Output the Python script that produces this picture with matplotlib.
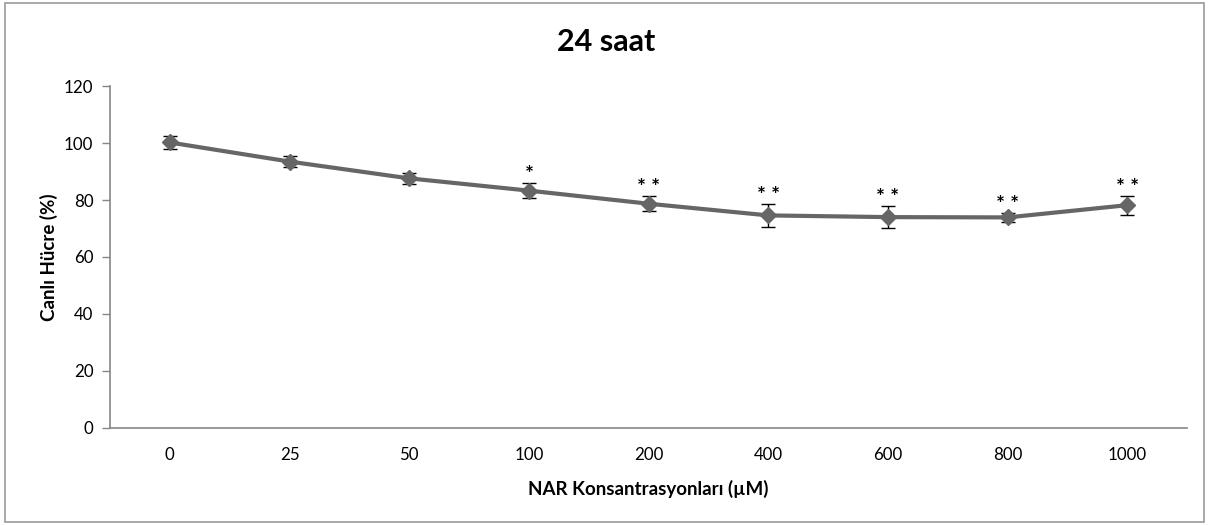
import numpy as np
import matplotlib.pyplot as plt
from matplotlib.patches import Rectangle

# data
doses = ['0', '25', '50', '100', '200', '400', '600', '800', '1000']
viability = [100.2, 93.5, 87.6, 83.3, 78.7, 74.6, 74.0, 73.9, 78.2]
err = [2.2, 2.0, 2.0, 2.7, 2.6, 3.9, 3.9, 1.6, 3.3]
stars = ['', '', '', '*', '**', '**', '**', '**', '**']

plt.rcParams['font.family'] = ['Lato', 'DejaVu Sans']

fig = plt.figure(figsize=(12.09, 5.25), dpi=100)
ax = fig.add_axes([0.091, 0.185, 0.891, 0.651])

x = np.arange(len(doses))
ax.errorbar(x, viability, yerr=err, color='#666666', lw=3, marker='D', ms=8,
            ecolor='black', elinewidth=1, capsize=5, capthick=1, zorder=3)

for xi, v, e, s in zip(x, viability, err, stars):
    if s:
        ax.text(xi, v + e - 0.7, ' '.join(s), ha='center', va='bottom',
                fontsize=15, fontweight='bold')

ax.set_xlim(-0.5, len(doses) - 0.5)
ax.set_ylim(0, 120)
ax.set_yticks(range(0, 121, 20))
ax.set_xticks(x)
ax.set_xticklabels(doses)
ax.tick_params(axis='x', length=0, pad=14, labelsize=12.2)
ax.tick_params(axis='y', length=6, width=1, color='#868686', labelsize=12.2, pad=6)
for side in ['top', 'right']:
    ax.spines[side].set_visible(False)
for side in ['left', 'bottom']:
    ax.spines[side].set_color('#868686')
    ax.spines[side].set_linewidth(1.2)

ax.set_ylabel('Canlı Hücre (%)', fontsize=13.5, fontweight='bold', labelpad=4)
ax.set_xlabel('NAR Konsantrasyonları (µM)', fontsize=13.5, fontweight='bold', labelpad=12)
fig.text(0.501, 0.92, '24 saat', ha='center', va='center', fontsize=22, fontweight='bold')

fig.patches.append(Rectangle((0.004, 0.005), 0.992, 0.99, transform=fig.transFigure,
                             fill=False, edgecolor='#999999', lw=1.2))

fig.savefig('out.png', dpi=100)
